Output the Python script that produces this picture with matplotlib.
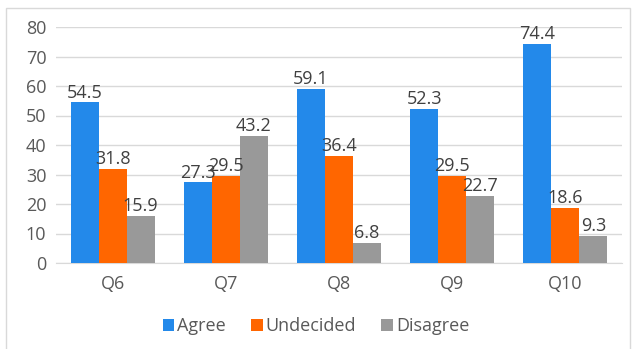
import numpy as np
import matplotlib
matplotlib.use("Agg")
import matplotlib.pyplot as plt
from matplotlib.patches import Rectangle

questions = ["Q6", "Q7", "Q8", "Q9", "Q10"]
agree = [54.5, 27.3, 59.1, 52.3, 74.4]
undecided = [31.8, 29.5, 36.4, 29.5, 18.6]
disagree = [15.9, 43.2, 6.8, 22.7, 9.3]

series = [("Agree", agree, "#2389EA"),
          ("Undecided", undecided, "#FF6600"),
          ("Disagree", disagree, "#999999")]

plt.rcParams['font.family'] = ['Open Sans', 'DejaVu Sans']

fig = plt.figure(figsize=(6.32, 3.49), dpi=100)
ax = fig.add_axes([56/632, 1 - 263/349, (622-56)/632, (263-27)/349])

x = np.arange(len(questions))
w = 0.247
for i, (name, vals, col) in enumerate(series):
    bars = ax.bar(x + (i - 1) * w, vals, w, color=col, label=name, zorder=3)
    for b, v in zip(bars, vals):
        ax.annotate(f"{v}", (b.get_x() + b.get_width() / 2, v),
                    xytext=(0, 0.5), textcoords="offset points",
                    ha="center", va="bottom", fontsize=13, color="#404040", zorder=4)

ax.set_xlim(-0.5, len(questions) - 0.5)
ax.set_ylim(0, 80)
ax.set_yticks(range(0, 81, 10))
ax.set_xticks(x)
ax.set_xticklabels(questions)
ax.yaxis.grid(True, color="#D9D9D9", linewidth=1, zorder=0)
for s in ["top", "right", "left"]:
    ax.spines[s].set_visible(False)
ax.spines["bottom"].set_color("#D9D9D9")
ax.tick_params(axis="both", length=0, labelsize=13, colors="#595959")
ax.tick_params(axis="x", pad=9)
ax.tick_params(axis="y", pad=7)

fig.legend(loc="center", bbox_to_anchor=(0.5, 1 - 326/349), ncol=3, frameon=False,
           fontsize=13, handlelength=0.65, handleheight=0.65, handletextpad=0.15,
           columnspacing=1.4, labelcolor="#595959")

fig.patches.append(Rectangle((6/632, -0.01), (630-6)/632, 1 - 8/349 + 0.01,
                             transform=fig.transFigure, fill=False,
                             edgecolor="#D9D9D9", linewidth=1))

fig.savefig("out.png", dpi=100)
